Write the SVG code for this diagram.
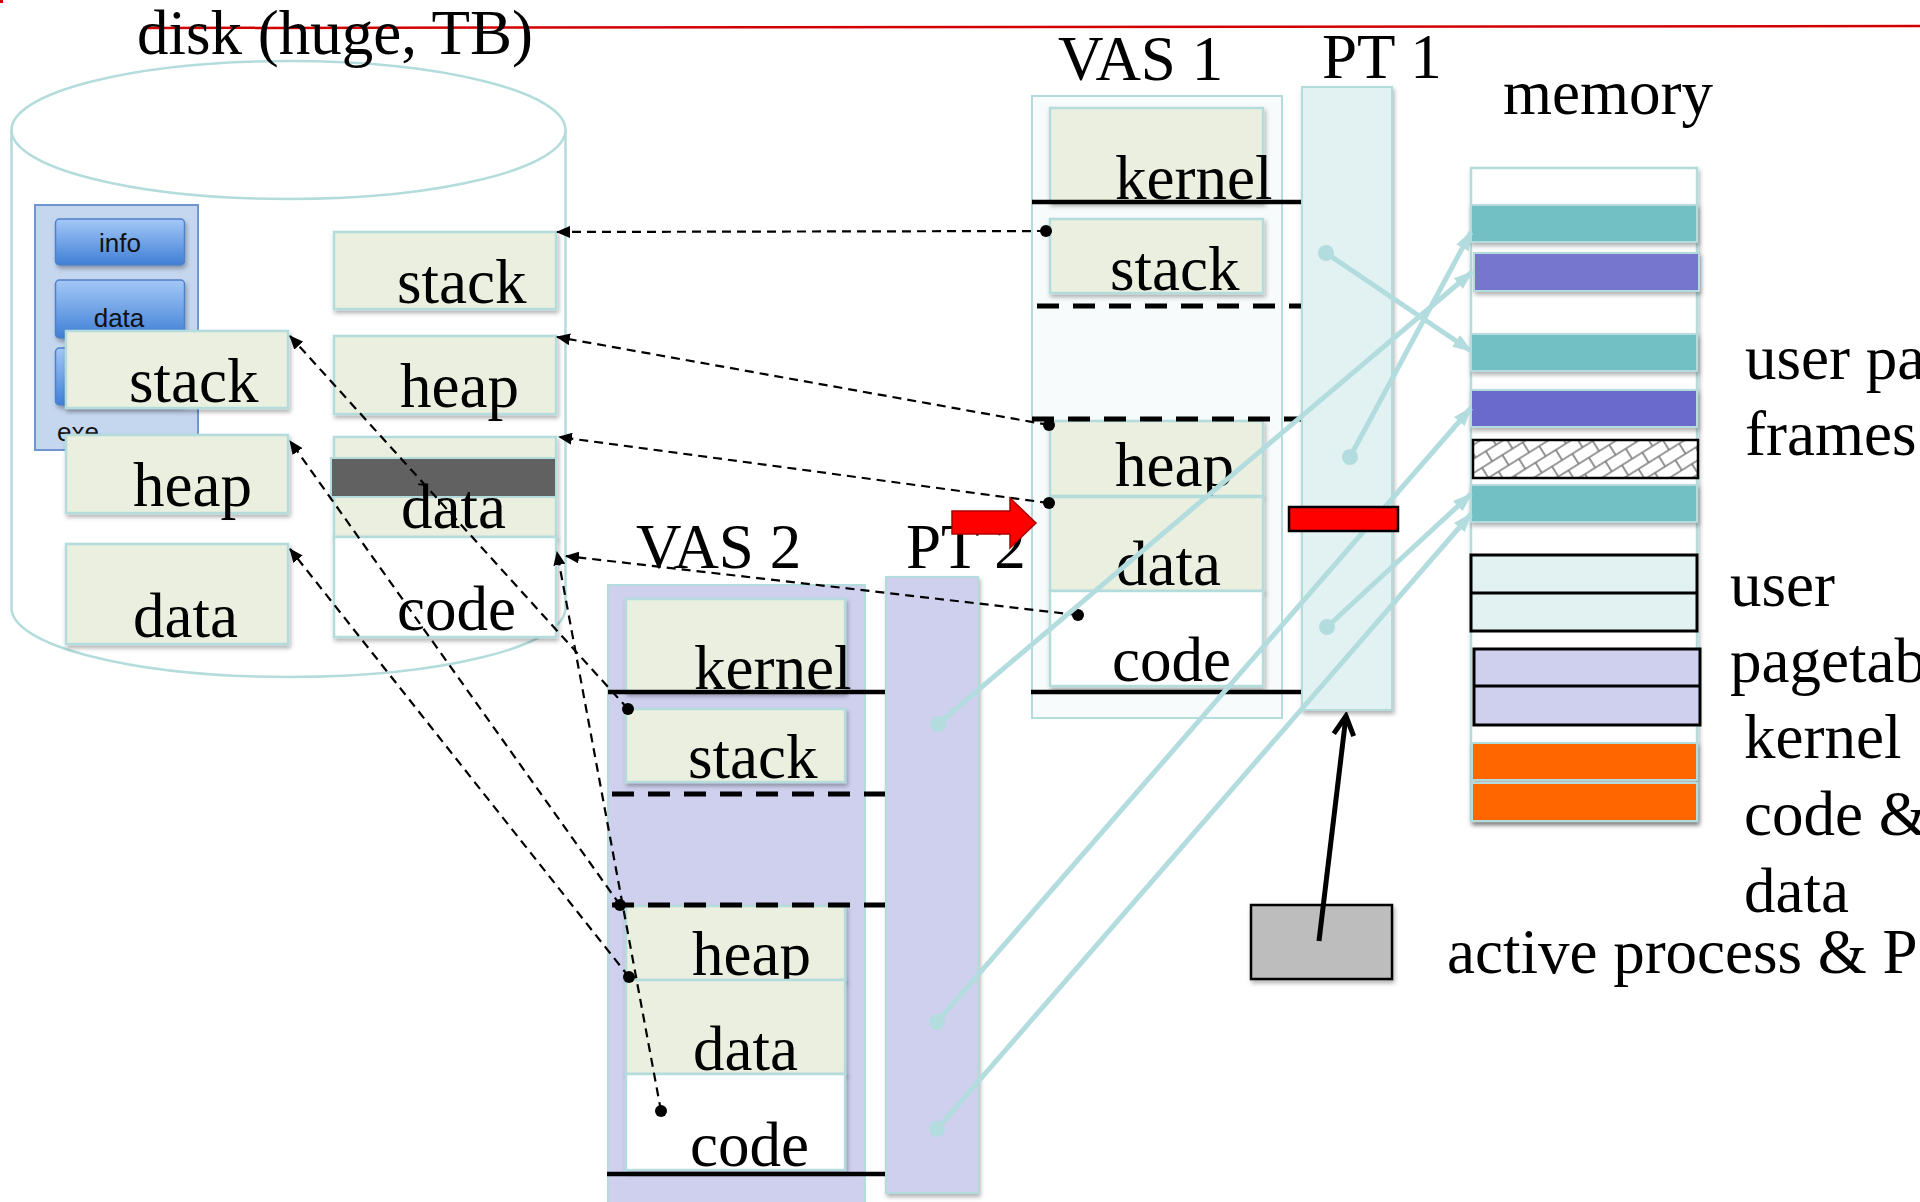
<svg xmlns="http://www.w3.org/2000/svg" width="1920" height="1202" viewBox="0 0 1920 1202">
<defs>
<style>
.t{font-family:"Liberation Serif","Times New Roman",serif;font-size:63px;fill:#000}
.s{font-family:"Liberation Sans",Arial,sans-serif;font-size:26px;fill:#111}
.box{fill:#ebefdf;stroke:#b4dcdc;stroke-width:2.5;filter:url(#sh)}
.wbox{fill:#fff;stroke:#b4dcdc;stroke-width:2.5;filter:url(#sh)}
.sep{stroke:#000;stroke-width:4.5}
.dsep{stroke:#000;stroke-width:5;stroke-dasharray:22 14}
.dash{fill:none;stroke:#000;stroke-width:2.2;stroke-dasharray:9 6}
.cy{fill:none;stroke:#b3dcdf;stroke-width:5}
.dot{fill:#000}
.cdot{fill:#b3dcdf}
.btn{fill:url(#btn);stroke:#4f80c8;stroke-width:1.5;filter:url(#sh)}
.bar{stroke:#b4dcdc;stroke-width:2;filter:url(#sh)}
</style>
<filter id="sh" x="-10%" y="-10%" width="130%" height="150%">
<feDropShadow dx="1.5" dy="3" stdDeviation="2" flood-color="#000" flood-opacity="0.3"/>
</filter>
<linearGradient id="btn" x1="0" y1="0" x2="0" y2="1">
<stop offset="0" stop-color="#a4c8f7"/>
<stop offset="1" stop-color="#3f7fd6"/>
</linearGradient>
<pattern id="hatch" width="24" height="24" patternUnits="userSpaceOnUse" patternTransform="rotate(-32)">
<rect width="24" height="24" fill="#fff"/>
<path d="M0 6 H24 M0 18 H24 M1 6 V18 M13 18 V24 M13 0 V6" stroke="#7a7a7a" stroke-width="1.6" fill="none"/>
</pattern>
<marker id="ah" markerWidth="14" markerHeight="12" refX="13" refY="6" orient="auto" markerUnits="userSpaceOnUse">
<path d="M0 0 L14 6 L0 12 Z" fill="#000"/>
</marker>
<marker id="ca" markerWidth="20" markerHeight="14" refX="18" refY="7" orient="auto" markerUnits="userSpaceOnUse">
<path d="M0 0 L20 7 L0 14 Z" fill="#b3dcdf"/>
</marker>
<marker id="chev" markerWidth="26" markerHeight="26" refX="22" refY="13" orient="auto" markerUnits="userSpaceOnUse">
<path d="M3 3 L22 13 L3 23" fill="none" stroke="#000" stroke-width="5" stroke-linejoin="miter"/>
</marker>
</defs>

<rect width="1920" height="1202" fill="#fff"/>
<rect x="0" y="0" width="3" height="3" fill="#d40000"/>
<line x1="143" y1="28" x2="1920" y2="26" stroke="#d40000" stroke-width="2.5"/>

<g id="disk">
<path d="M11.5 130 L11.5 608 A277 69 0 0 0 565.5 608 L565.5 130" fill="#fff" stroke="#b4dcdc" stroke-width="2.5"/>
<ellipse cx="288.5" cy="130" rx="277" ry="69" fill="#fff" stroke="#b4dcdc" stroke-width="2.5"/>
<text class="t" x="137" y="54">disk (huge, TB)</text>
</g>

<g id="exe">
<rect x="35" y="205" width="163" height="245" fill="#c5d7ef" stroke="#6f96cf" stroke-width="2"/>
<rect class="btn" x="55.5" y="219" width="129" height="46" rx="4"/>
<text class="s" x="120" y="252" text-anchor="middle">info</text>
<rect class="btn" x="55.5" y="280" width="129" height="58" rx="4"/>
<text class="s" x="119" y="327" text-anchor="middle">data</text>
<rect class="btn" x="55.5" y="348" width="129" height="57" rx="4"/>
<text class="s" x="57" y="441">exe</text>
</g>

<g id="disk-stack"><rect class="box" x="334" y="232" width="222" height="77"/><text class="t" x="397" y="303">stack</text></g>
<g id="disk-heap"><rect class="box" x="334" y="336" width="222" height="78"/><text class="t" x="400" y="407">heap</text></g>
<g id="disk-data"><rect class="box" x="334" y="437" width="222" height="100"/><rect x="331" y="458" width="225" height="39" fill="#616161" stroke="#b4dcdc" stroke-width="2"/><text class="t" x="401" y="528">data</text></g>
<g id="disk-code"><rect class="wbox" x="334" y="537" width="222" height="100"/><text class="t" x="397" y="630">code</text></g>
<g id="disk-stack2"><rect class="box" x="66" y="331" width="222" height="77"/><text class="t" x="129" y="402">stack</text></g>
<g id="disk-heap2"><rect class="box" x="66" y="435" width="222" height="78"/><text class="t" x="133" y="506">heap</text></g>
<g id="disk-data2"><rect class="box" x="66" y="544" width="222" height="100"/><text class="t" x="133" y="637">data</text></g>

<g id="vas1">
<text class="t" x="1058" y="80">VAS 1</text>
<rect x="1032" y="96" width="250" height="622" fill="#f8fbfb" stroke="#b4dcdc" stroke-width="2"/>
<rect class="box" x="1050" y="108" width="213" height="94"/>
<text class="t" x="1115" y="199">kernel</text>
<rect class="box" x="1050" y="219" width="213" height="74"/>
<text class="t" x="1110" y="290">stack</text>
<rect class="box" x="1050" y="421" width="213" height="75"/>
<text class="t" x="1115" y="486">heap</text>
<rect class="box" x="1050" y="497" width="213" height="94"/>
<text class="t" x="1116" y="585">data</text>
<rect class="wbox" x="1050" y="591" width="213" height="95"/>
<text class="t" x="1112" y="681">code</text>
<line class="sep" x1="1032" y1="202" x2="1301" y2="202"/>
<line class="dsep" x1="1037" y1="306" x2="1301" y2="306"/>
<line class="dsep" x1="1032" y1="419" x2="1301" y2="419"/>
<line class="sep" x1="1031" y1="692" x2="1302" y2="692"/>
</g>

<g id="pt1">
<text class="t" x="1322" y="78">PT 1</text>
<rect x="1302" y="87" width="90" height="623" fill="#e2f2f2" stroke="#b4dcdc" stroke-width="2" filter="url(#sh)"/>
</g>

<g id="vas2">
<text class="t" x="636" y="568">VAS 2</text>
<rect x="608" y="585" width="257" height="630" fill="#cfd0ee" stroke="#b4dcdc" stroke-width="2"/>
<rect class="box" x="626" y="599" width="219" height="93"/>
<text class="t" x="694" y="689">kernel</text>
<rect class="box" x="626" y="709" width="219" height="73"/>
<text class="t" x="688" y="778">stack</text>
<rect class="box" x="626" y="906" width="219" height="74"/>
<text class="t" x="692" y="975">heap</text>
<rect class="box" x="626" y="980" width="219" height="94"/>
<text class="t" x="693" y="1070">data</text>
<rect class="wbox" x="626" y="1074" width="219" height="96"/>
<text class="t" x="690" y="1166">code</text>
<line class="sep" x1="608" y1="692" x2="886" y2="692"/>
<line class="dsep" x1="612" y1="794" x2="886" y2="794"/>
<line class="dsep" x1="612" y1="905" x2="886" y2="905"/>
<line class="sep" x1="607" y1="1174" x2="886" y2="1174"/>
</g>

<g id="pt2">
<text class="t" x="906" y="568">PT 2</text>
<rect x="886" y="577" width="92" height="616" fill="#cfd0ee" stroke="#b4dcdc" stroke-width="2" filter="url(#sh)"/>
</g>

<g id="memory">
<text class="t" x="1503" y="114">memory</text>
<rect x="1471" y="168" width="226" height="653" fill="#fff" stroke="#b4dcdc" stroke-width="2.5" filter="url(#sh)"/>
<rect class="bar" x="1471" y="205" width="226" height="37" fill="#72bfc4"/>
<rect class="bar" x="1474" y="253" width="225" height="38" fill="#7676cf"/>
<rect class="bar" x="1471" y="334" width="226" height="37" fill="#72bfc4"/>
<rect class="bar" x="1471" y="390" width="226" height="37" fill="#6b6bcc"/>
<rect x="1473" y="440" width="225" height="38" fill="url(#hatch)" stroke="#000" stroke-width="2.5"/>
<rect class="bar" x="1471" y="485" width="226" height="37" fill="#72bfc4"/>
<rect x="1471" y="555" width="226" height="76" fill="#e2f2f2" stroke="#000" stroke-width="3"/>
<line x1="1471" y1="593" x2="1697" y2="593" stroke="#000" stroke-width="3"/>
<rect x="1474" y="649" width="226" height="76" fill="#cfd0ee" stroke="#000" stroke-width="3"/>
<line x1="1474" y1="686" x2="1700" y2="686" stroke="#000" stroke-width="3"/>
<rect class="bar" x="1472" y="743" width="225" height="37" fill="#ff6600"/>
<rect class="bar" x="1472" y="783" width="225" height="38" fill="#ff6600"/>
</g>

<g id="labels">
<text class="t" x="1745" y="379">user pa</text>
<text class="t" x="1745" y="455">frames</text>
<text class="t" x="1730" y="606">user</text>
<text class="t" x="1730" y="682">pagetab</text>
<text class="t" x="1744" y="758">kernel</text>
<text class="t" x="1744" y="835">code &amp;</text>
<text class="t" x="1744" y="912">data</text>
<text class="t" x="1447" y="973">active process &amp; P</text>
</g>

<g id="active">
<rect x="1251" y="905" width="141" height="74" fill="#bdbdbd" stroke="#000" stroke-width="2.5" filter="url(#sh)"/>
</g>

<g id="connectors">
<path class="dash" d="M1046 231 L557 232" marker-end="url(#ah)"/>
<path class="dash" d="M1049 425 L557 337" marker-end="url(#ah)"/>
<path class="dash" d="M1049 503 L559 437" marker-end="url(#ah)"/>
<path class="dash" d="M1078 615 L566 556" marker-end="url(#ah)"/>
<path class="dash" d="M628 709 L290 336" marker-end="url(#ah)"/>
<path class="dash" d="M620 905 L290 441" marker-end="url(#ah)"/>
<path class="dash" d="M629 977 L290 549" marker-end="url(#ah)"/>
<path class="dash" d="M661 1111 L557 552" marker-end="url(#ah)"/>
<circle class="dot" cx="1046" cy="231" r="6"/>
<circle class="dot" cx="1049" cy="425" r="6"/>
<circle class="dot" cx="1049" cy="503" r="6"/>
<circle class="dot" cx="1078" cy="615" r="6"/>
<circle class="dot" cx="628" cy="709" r="6"/>
<circle class="dot" cx="620" cy="905" r="6"/>
<circle class="dot" cx="629" cy="977" r="6"/>
<circle class="dot" cx="661" cy="1111" r="6"/>

<path class="cy" d="M1326 253 L1471 351" marker-end="url(#ca)"/>
<path class="cy" d="M1350 457 L1471 232" marker-end="url(#ca)"/>
<path class="cy" d="M1327 627 L1471 494" marker-end="url(#ca)"/>
<path class="cy" d="M938 724 L1472 272" marker-end="url(#ca)"/>
<path class="cy" d="M937 1022 L1471 408" marker-end="url(#ca)"/>
<path class="cy" d="M937 1129 L1471 514" marker-end="url(#ca)"/>
<circle class="cdot" cx="1326" cy="253" r="8"/>
<circle class="cdot" cx="1350" cy="457" r="8"/>
<circle class="cdot" cx="1327" cy="627" r="8"/>
<circle class="cdot" cx="938" cy="724" r="8"/>
<circle class="cdot" cx="937" cy="1022" r="8"/>
<circle class="cdot" cx="937" cy="1129" r="8"/>

<path d="M1319 941 L1346 716" fill="none" stroke="#000" stroke-width="5" marker-end="url(#chev)"/>
</g>

<g id="pt1-invalid">
<rect x="1289" y="507" width="109" height="24" fill="#ff0000" stroke="#000" stroke-width="2.5"/>
</g>

<g id="red-arrow">
<polygon points="952,511 1010,511 1010,498 1036,523 1010,548 1010,534 952,534" fill="#ff0000" stroke="#a00" stroke-width="1.5"/>
</g>
</svg>
